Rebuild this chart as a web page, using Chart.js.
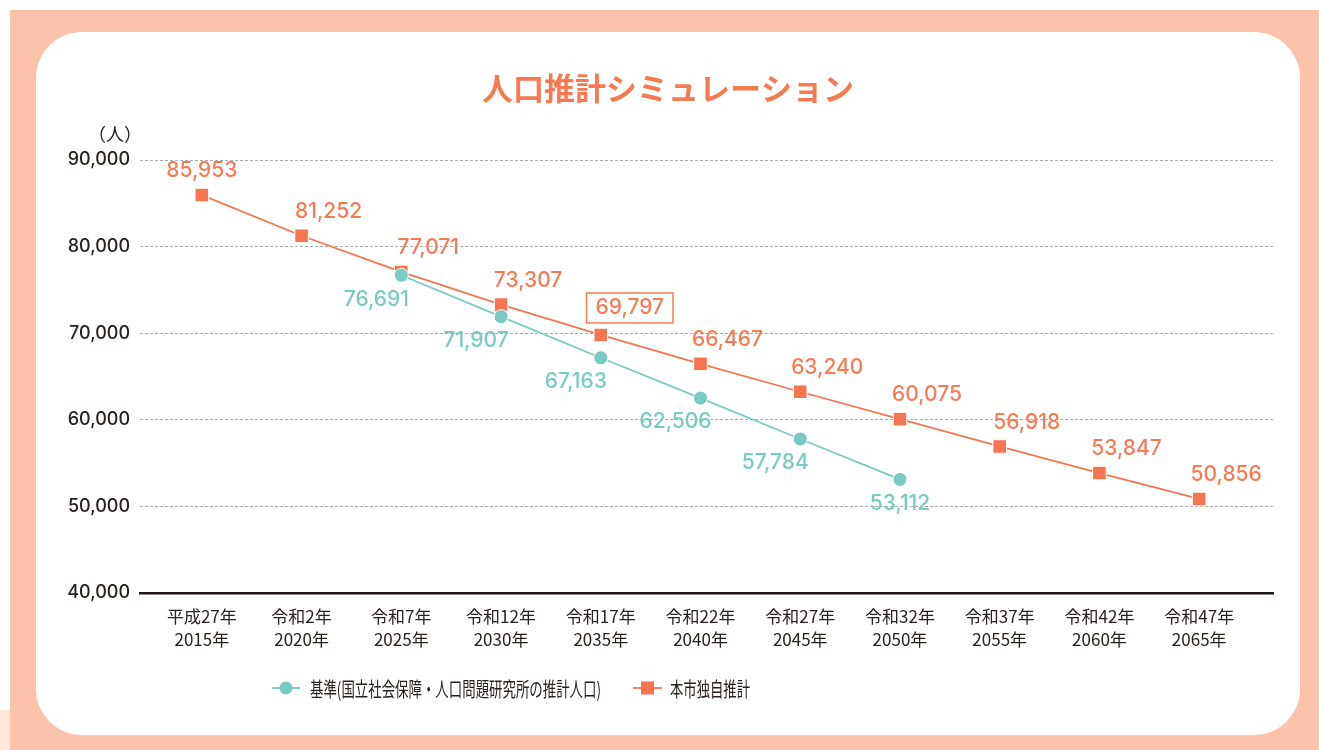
<!DOCTYPE html>
<html lang="ja">
<head>
<meta charset="utf-8">
<script src="https://cdn.jsdelivr.net/npm/chart.js@4"></script>
<style>
  html, body { margin:0; padding:0; width:1319px; height:750px; overflow:hidden; background:#ffffff; }
  .frame { position:absolute; left:10px; top:10px; width:1309px; height:740px; background:#FDC3AA; }
  .patch { position:absolute; left:0; top:710px; width:10px; height:40px; background:#FDE5DA; }
  .card { position:absolute; left:36px; top:32px; width:1264px; height:703px; background:#ffffff; border-radius:46px; }
  #wrap { position:absolute; left:0; top:0; width:1319px; height:750px; }
</style>
</head>
<body>
<div class="patch"></div>
<div class="frame"></div>
<div class="card"></div>
<div id="wrap"><canvas id="c" width="1319" height="750"></canvas></div>
<script>
const eraLabels = ["平成27年","令和2年","令和7年","令和12年","令和17年","令和22年","令和27年","令和32年","令和37年","令和42年","令和47年"];
const yearLabels = ["2015年","2020年","2025年","2030年","2035年","2040年","2045年","2050年","2055年","2060年","2065年"];
const baselineValues = [null, null, 76691, 71907, 67163, 62506, 57784, 53112, null, null, null];
const cityValues = [85953, 81252, 77071, 73307, 69797, 66467, 63240, 60075, 56918, 53847, 50856];
const yTickValues = [40000, 50000, 60000, 70000, 80000, 90000];
const chartTitle = "人口推計シミュレーション";
const unitLabel = "（人）";
const baselineName = "基準(国立社会保障・人口問題研究所の推計人口)";
const cityName = "本市独自推計";
const boxedIndex = 4;

const TEAL = "#78CAC2";
const ORANGE = "#F47650";
const LABEL_ORANGE = "#F57B55";
const TEXT = "#2a201e";

const fmt = v => v.toLocaleString("en-US");

const decorPlugin = {
  id: "decor",
  afterDraw(chart) {
    const ctx = chart.ctx;
    ctx.save();
    // Title
    ctx.fillStyle = "#F47A52";
    ctx.font = "bold 31px 'Noto Sans CJK JP'";
    ctx.textAlign = "center";
    ctx.textBaseline = "middle";
    ctx.fillText(chartTitle, 668, 88);
    // Unit label
    ctx.fillStyle = TEXT;
    ctx.font = "18px 'Noto Sans CJK JP'";
    ctx.textAlign = "right";
    ctx.fillText(unitLabel, 142, 134);
    // Legend
    const ly = 688;
    ctx.lineWidth = 1.8;
    ctx.strokeStyle = TEAL;
    ctx.beginPath(); ctx.moveTo(272, ly); ctx.lineTo(300, ly); ctx.stroke();
    ctx.fillStyle = TEAL;
    ctx.beginPath(); ctx.arc(286, ly, 6.5, 0, Math.PI * 2); ctx.fill();
    ctx.strokeStyle = ORANGE;
    ctx.beginPath(); ctx.moveTo(633, ly); ctx.lineTo(662, ly); ctx.stroke();
    ctx.fillStyle = ORANGE;
    ctx.fillRect(641, ly - 6.5, 13, 13);
    ctx.fillStyle = TEXT;
    ctx.font = "20px 'Noto Sans CJK JP'";
    ctx.textAlign = "left";
    const drawScaled = (txt, x, targetW) => {
      const w = ctx.measureText(txt).width;
      const s = Math.min(1, targetW / w);
      ctx.save();
      ctx.translate(x, ly);
      ctx.scale(s, 1);
      ctx.fillText(txt, 0, 1);
      ctx.restore();
    };
    drawScaled(baselineName, 310, 291);
    drawScaled(cityName, 670, 80);
    ctx.restore();
  }
};

const labelPlugin = {
  id: "pointLabels",
  afterDatasetsDraw(chart) {
    const ctx = chart.ctx;
    ctx.save();
    ctx.font = "500 21px Inter";
    ctx.textAlign = "center";
    ctx.textBaseline = "middle";
    // baseline labels (below-left)
    const m0 = chart.getDatasetMeta(0);
    const lastBase = baselineValues.map((v, i) => v == null ? -1 : i).reduce((a, b) => Math.max(a, b), -1);
    baselineValues.forEach((v, i) => {
      if (v == null) return;
      const p = m0.data[i];
      const dx = i === lastBase ? 0 : -25;
      ctx.fillStyle = TEAL;
      ctx.fillText(fmt(v), p.x + dx, p.y + 24);
    });
    // city labels (above-right)
    const m1 = chart.getDatasetMeta(1);
    cityValues.forEach((v, i) => {
      const p = m1.data[i];
      const dx = i === 0 ? 0 : 27;
      const dy = i === boxedIndex ? -27 : -24;
      const tx = p.x + dx + (i === boxedIndex ? 2 : 0), ty = p.y + dy;
      if (i === boxedIndex) {
        const w = ctx.measureText(fmt(v)).width + 18;
        ctx.fillStyle = "#ffffff";
        ctx.fillRect(tx - w / 2, ty - 15, w, 30);
        ctx.strokeStyle = LABEL_ORANGE;
        ctx.lineWidth = 1.5;
        ctx.strokeRect(tx - w / 2, ty - 15, w, 30);
      }
      ctx.fillStyle = LABEL_ORANGE;
      ctx.fillText(fmt(v), tx, ty);
    });
    ctx.restore();
  }
};

new Chart(document.getElementById("c"), {
  type: "line",
  data: {
    datasets: [
      {
        label: baselineName,
        data: baselineValues.map((v, i) => ({ x: i, y: v })),
        borderColor: TEAL,
        backgroundColor: TEAL,
        borderWidth: 1.8,
        pointStyle: "circle",
        pointRadius: 7,
        pointBackgroundColor: TEAL,
        pointBorderColor: "#ffffff",
        pointBorderWidth: 1,
        tension: 0,
        spanGaps: false
      },
      {
        label: cityName,
        data: cityValues.map((v, i) => ({ x: i, y: v })),
        borderColor: ORANGE,
        backgroundColor: ORANGE,
        borderWidth: 1.8,
        pointStyle: "rect",
        pointRadius: 9.6,
        pointBackgroundColor: ORANGE,
        pointBorderColor: "#ffffff",
        pointBorderWidth: 1,
        tension: 0
      }
    ]
  },
  options: {
    responsive: false,
    animation: false,
    events: [],
    layout: { padding: { top: 160, right: 46, left: 0, bottom: 0 } },
    plugins: {
      legend: { display: false },
      tooltip: { enabled: false },
      title: { display: false }
    },
    scales: {
      x: {
        type: "linear",
        min: -0.62,
        max: 10.74,
        afterBuildTicks: s => { s.ticks = eraLabels.map((_, i) => ({ value: i })); },
        afterFit: s => { s.height = 157; },
        ticks: {
          autoSkip: false,
          maxRotation: 0,
          padding: 12,
          color: TEXT,
          font: { family: "'Noto Sans CJK JP'", size: 17, lineHeight: 1.35 },
          callback: (v, i) => [eraLabels[i], yearLabels[i]]
        },
        grid: { display: false, drawTicks: false },
        border: { display: true, color: "#231815", width: 2.5 }
      },
      y: {
        min: 40000,
        max: 90000,
        afterBuildTicks: s => { s.ticks = yTickValues.map(v => ({ value: v })); },
        afterFit: s => { s.width = 140; },
        ticks: {
          padding: 10,
          color: TEXT,
          font: { family: "Inter", size: 18, weight: "500" },
          callback: v => fmt(v)
        },
        grid: {
          drawTicks: false,
          tickLength: 0,
          lineWidth: 1,
          color: c => (c.tick && c.tick.value === 40000) ? "rgba(0,0,0,0)" : "#ababab"
        },
        border: { display: false, dash: [3, 2] }
      }
    }
  },
  plugins: [decorPlugin, labelPlugin]
});
</script>
</body>
</html>
